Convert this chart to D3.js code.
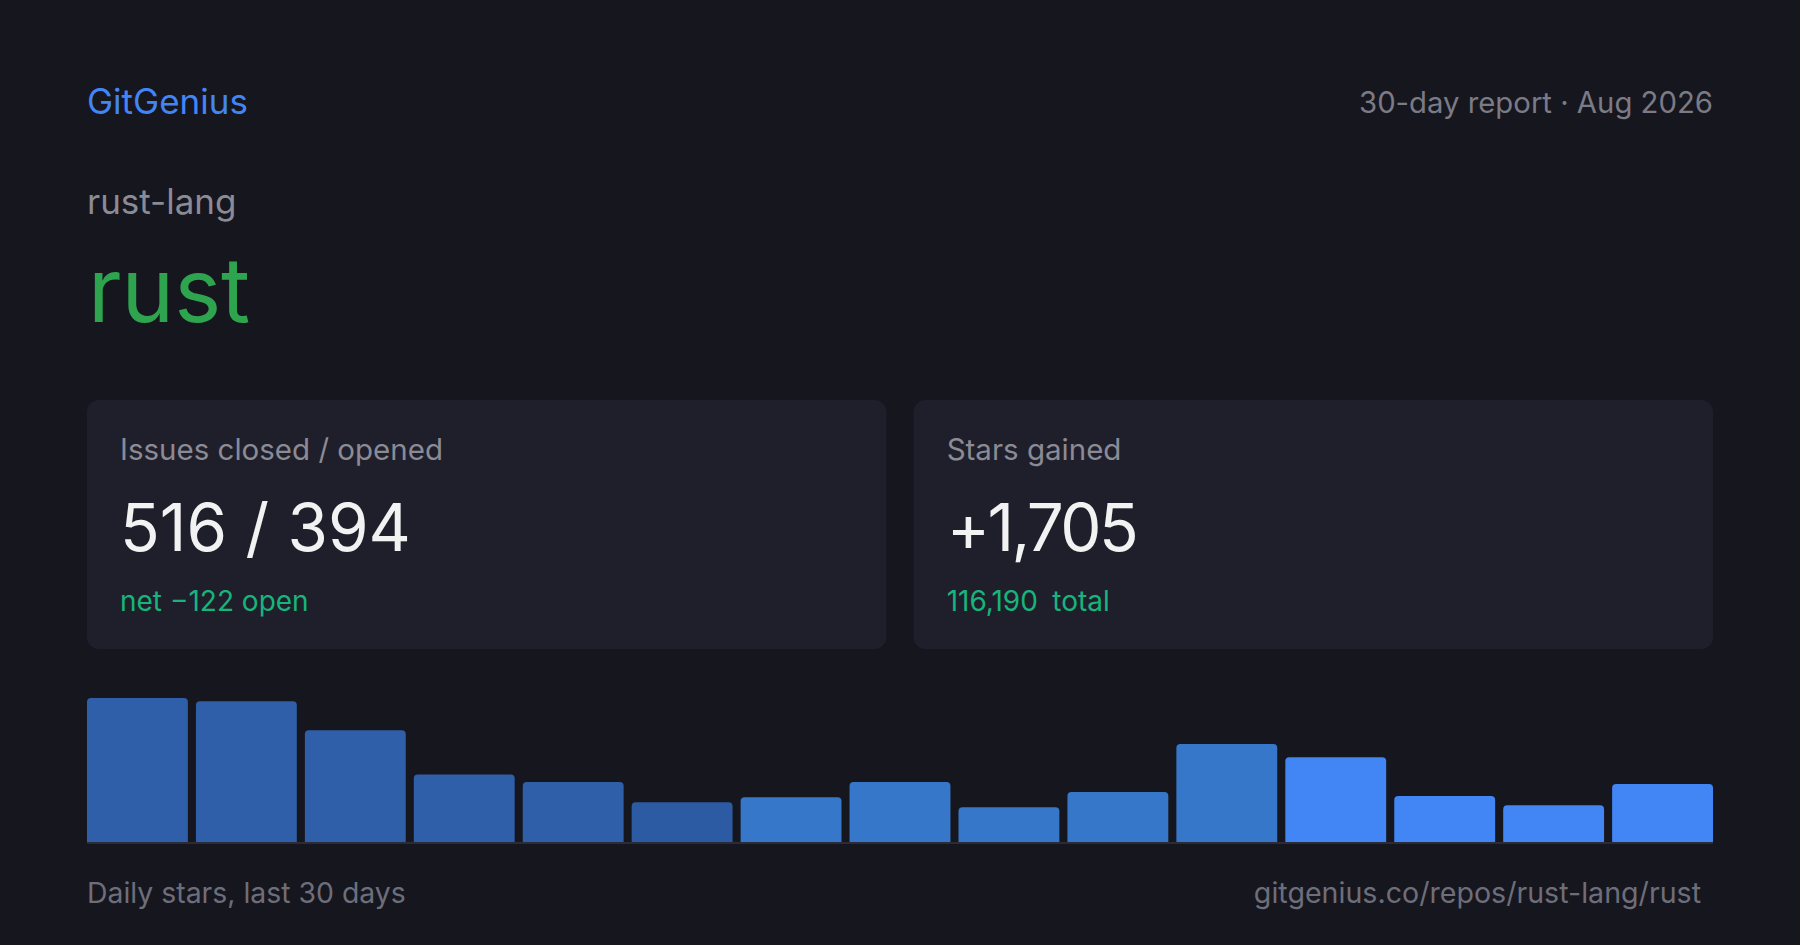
<!DOCTYPE html>
<html>
<head>
<meta charset="utf-8">
<script src="https://cdn.jsdelivr.net/npm/d3@7"></script>
<style>
  html, body { margin: 0; padding: 0; background: #16161f; }
  svg { display: block; font-family: Inter, "Noto Sans", sans-serif; }
</style>
</head>
<body>
<div class="chart"></div>
<script>
    // Report data
    const brand = 'GitGenius';
    const period = '30-day report · Aug 2026';
    const owner = 'rust-lang';
    const repo = 'rust';
    const cardTitles = ['Issues closed / opened', 'Stars gained'];
    const cardValues = ['516 / 394', '+1,705'];
    const cardNotes = [['net −122 open'], ['116,190', 'total']];
    const footerLeft = 'Daily stars, last 30 days';
    const footerRight = 'gitgenius.co/repos/rust-lang/rust';

    // Daily stars
    const days = d3.range(1, 16);
    const stars = [228, 223, 177, 107, 95, 63, 71, 95, 55, 79, 155, 134, 73, 58, 92];

    const width = 1800;
    const height = 945;
    const margin = {left: 87, right: 87};

    const svg = d3.select('.chart').append('svg')
        .attr('width', width)
        .attr('height', height);

    svg.append('rect')
        .attr('width', width)
        .attr('height', height)
        .attr('fill', '#16161f');

    // Header
    svg.append('text')
        .attr('x', margin.left).attr('y', 114)
        .attr('font-size', 35).attr('fill', '#4285f4')
        .text(brand);

    svg.append('text')
        .attr('x', width - margin.right).attr('y', 113)
        .attr('text-anchor', 'end')
        .attr('font-size', 29.3).attr('fill', '#7b7b86')
        .text(period);

    svg.append('text')
        .attr('x', margin.left).attr('y', 214)
        .attr('font-size', 35).attr('fill', '#8b8b95')
        .text(owner);

    svg.append('text')
        .attr('x', margin.left + 1).attr('y', 322)
        .attr('font-size', 89).attr('fill', '#2ea44f')
        .text(repo);

    // Stat cards
    const cardX = d3.scaleBand()
        .domain(d3.range(cardTitles.length))
        .range([margin.left, width - margin.right])
        .paddingInner(0.033);

    const cards = svg.selectAll('.card')
        .data(cardTitles)
        .enter().append('g')
        .attr('class', 'card')
        .attr('transform', (d, i) => `translate(${cardX(i)},400)`);

    cards.append('rect')
        .attr('width', cardX.bandwidth())
        .attr('height', 249)
        .attr('rx', 12)
        .attr('fill', '#1f1f2b');

    cards.append('text')
        .attr('x', 33).attr('y', 60)
        .attr('font-size', 29.5).attr('fill', '#8b8b95')
        .text(d => d);

    cards.append('text')
        .attr('x', 33).attr('y', 151)
        .attr('font-size', 65.5).attr('fill', '#f2f2f2')
        .attr('letter-spacing', (d, i) => i ? -2.6 : 0)
        .text((d, i) => cardValues[i]);

    const notes = cards.append('text')
        .attr('x', 33).attr('y', 211)
        .attr('font-size', 28).attr('fill', '#17b47c');

    notes.selectAll('tspan')
        .data((d, i) => cardNotes[i])
        .enter().append('tspan')
        .attr('dx', (d, i) => i ? 14 : 0)
        .text(d => d);

    // Daily stars bars
    const x = d3.scaleBand()
        .domain(days)
        .range([margin.left, width - margin.right])
        .paddingInner(0.074);

    const y = d3.scaleLinear()
        .domain([0, d3.max(stars)])
        .range([842, 698]);

    const color = d3.scaleThreshold()
        .domain([6, 7, 12])
        .range(['#2f5fa9', '#2d5ba3', '#3677c9', '#4285f4']);

    function topRounded(x0, y0, w, h, r) {
      return `M${x0},${y0 + h}V${y0 + r}Q${x0},${y0} ${x0 + r},${y0}` +
        `H${x0 + w - r}Q${x0 + w},${y0} ${x0 + w},${y0 + r}V${y0 + h}Z`;
    }

    svg.append('g')
        .selectAll('path')
        .data(stars)
        .enter().append('path')
        .attr('d', (d, i) => topRounded(x(days[i]), y(d), x.bandwidth(), y(0) - y(d), 4))
        .attr('fill', (d, i) => color(days[i]));

    svg.append('line')
        .attr('x1', margin.left).attr('x2', width - margin.right)
        .attr('y1', 843).attr('y2', 843)
        .attr('stroke', '#2b2b38')
        .attr('stroke-width', 2);

    // Footer
    svg.append('text')
        .attr('x', margin.left).attr('y', 903)
        .attr('font-size', 28.4).attr('fill', '#6e6e7a')
        .text(footerLeft);

    svg.append('text')
        .attr('x', 1701).attr('y', 903)
        .attr('text-anchor', 'end')
        .attr('font-size', 28.6).attr('fill', '#6e6e7a')
        .text(footerRight);
</script>
</body>
</html>
